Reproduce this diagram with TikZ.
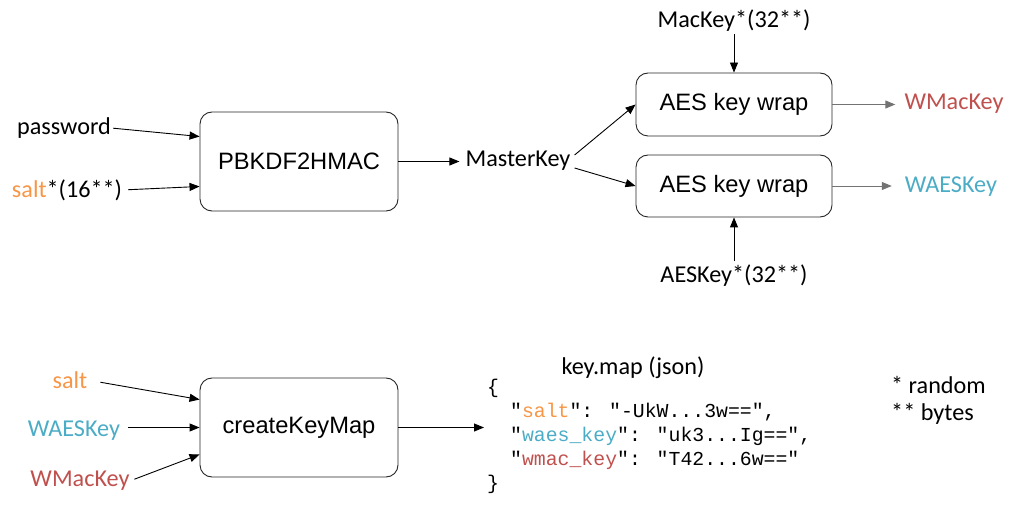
\documentclass[tikz,border=0pt]{standalone}
\usepackage{fontspec}
\setmainfont{Carlito}
\newfontfamily\arialf{Liberation Sans}
\newfontfamily\monof{Liberation Mono}
\usetikzlibrary{arrows.meta,calc}
\definecolor{cor}{HTML}{F79646}
\definecolor{cbl}{HTML}{4BACC6}
\definecolor{crd}{HTML}{C0504D}
\tikzset{
  box/.style={draw=black!85, line width=0.9pt, rounded corners=12pt, inner sep=0pt,
    font=\arialf\fontsize{23.7}{28}\selectfont},
  lbl/.style={inner sep=0pt, font=\fontsize{24.2}{28}\selectfont},
  arr/.style={line width=0.9pt, -{Triangle[length=10pt,width=8pt]}},
  garr/.style={arr, draw=black!55},
}
\begin{document}
\begin{tikzpicture}[x=1pt,y=-1pt]
\useasboundingbox (0,0) rectangle (1016,510);
% top part
\node[box, minimum width=198pt, minimum height=99pt] (pb) at (299,161.5) {PBKDF2HMAC};
\node[lbl] (pw) at (64,128) {password};
\node[lbl] (salt) at (67,190) {\textcolor{cor}{salt}*(16**)};
\node[lbl] (mk) at (518,161) {MasterKey};
\node[box, minimum width=196pt, minimum height=63pt] (aes1) at (734,104.5) {AES key wrap};
\node[box, minimum width=196pt, minimum height=62pt] (aes2) at (734,186) {AES key wrap};
\node[lbl] (mac) at (734,21) {MacKey*(32**)};
\node[lbl] (aesk) at (734,276) {AESKey*(32**)};
\node[lbl, text=crd] (wmac) at (954,104) {WMacKey};
\node[lbl, text=cbl] (waes) at (951,187) {WAESKey};
\draw[arr, shorten <=2pt] (pw.east) -- ($(pb.north west)!0.25!(pb.south west)$);
\draw[arr, shorten <=6pt] (salt.east) -- ($(pb.north west)!0.75!(pb.south west)$);
\draw[arr, shorten >=6pt] (pb.east) -- (pb.east -| mk.west);
\draw[arr] ($(mk.east)+(4,-6)$) -- (aes1.west);
\draw[arr] ($(mk.east)+(4,7)$) -- (aes2.west);
\draw[arr, shorten <=2pt] (mac.south) -- (aes1.north);
\draw[arr, shorten <=4pt] (aesk.north) -- (aes2.south);
\draw[garr, shorten >=9pt] (aes1.east) -- (aes1.east -| wmac.west);
\draw[garr, shorten >=13pt] (aes2.east) -- (aes2.east -| waes.west);
% bottom part
\node[box, minimum width=198pt, minimum height=99pt] (ckm) at (299,427.5) {createKeyMap};
\node[lbl, text=cor] (salt2) at (70,380) {salt};
\node[lbl, text=cbl] (waes2) at (74,431) {WAESKey};
\node[lbl, text=crd] (wmac2) at (80,481) {WMacKey};
\node[lbl] (title) at (633,368) {key.map (json)};
\node[anchor=north west, inner sep=0pt, align=left,
  font=\monof\fontsize{19.8}{24}\selectfont] (json) at (487,379)
  {\{\\
   \hspace*{23pt}"\textcolor{cor}{salt}": "-UkW...3w==",\\
   \hspace*{23pt}"\textcolor{cbl}{waes\_key}": "uk3...Ig==",\\
   \hspace*{23pt}"\textcolor{crd}{wmac\_key}": "T42...6w=="\\
   \}};
\node[lbl, anchor=west, align=left, font=\fontsize{24.2}{27}\selectfont] (note) at (891,400)
  {* random\\** bytes};
\draw[arr, shorten <=13pt] (salt2.east) -- ($(ckm.north west)!0.22!(ckm.south west)$);
\draw[arr, shorten <=8pt] (ckm.west -| waes2.east) -- (ckm.west);
\draw[arr, shorten <=5pt] (wmac2.east) -- ($(ckm.north west)!0.77!(ckm.south west)$);
\draw[arr, shorten >=3pt] (ckm.east) -- (ckm.east -| json.west);
\end{tikzpicture}
\end{document}
